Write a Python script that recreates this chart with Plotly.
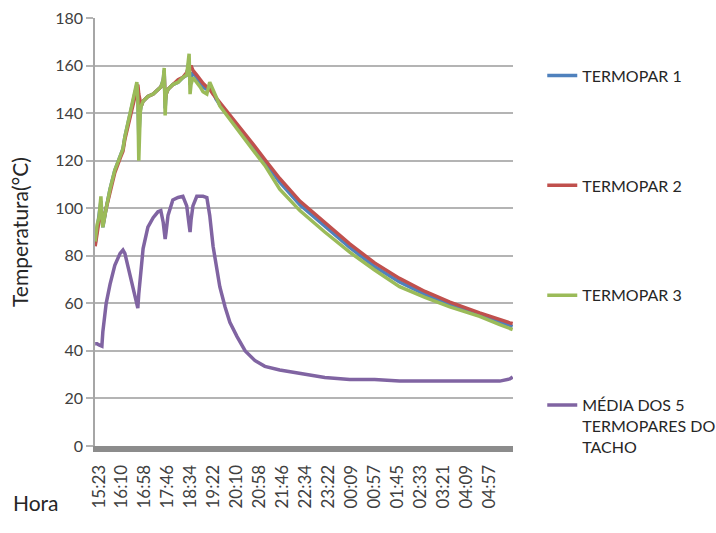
import plotly.graph_objects as go
from datetime import datetime, timedelta

# ---- data ----
hora = ["15:15", "15:19", "15:23", "15:27", "15:29", "15:31", "15:38", "15:46", "15:56", "16:07",
        "16:13", "16:17", "16:28", "16:36", "16:42", "16:44", "16:46", "16:49", "16:51", "16:55",
        "17:05", "17:16", "17:26", "17:32", "17:37", "17:39", "17:41", "17:43", "17:47", "17:57",
        "18:08", "18:18", "18:26", "18:31", "18:33", "18:35", "18:39", "18:47", "18:54", "19:00",
        "19:08", "19:14", "19:21", "19:27", "19:35", "19:46", "19:56", "20:11", "20:28", "20:48",
        "21:09", "21:40", "22:22", "23:14", "00:06", "00:58", "01:50", "02:43", "03:35", "04:37",
        "05:19", "05:40", "05:46"]

termopar1 = [85, 91, 95, 103, 97, 92, 100, 108, 116, 122,
             125, 130, 140, 147, 152, 150, 130, 141, 143, 145,
             147, 148, 150, 151, 154, 158, 142, 148, 150, 152,
             153, 155, 156, 162, 152, 155, 157, 155, 153, 151,
             150, 151, 149, 146, 143.5, 141, 138.5, 134.5, 130, 125,
             119.5, 111, 101.5, 92.5, 83.5, 75.5, 69, 63.8, 59.5, 55.2,
             52, 50.6, 50.3]

termopar2 = [84, 89, 94, 100, 97, 93, 100, 107, 115, 121,
             124, 129, 139, 146, 151, 152, 148, 144, 143, 145,
             147, 148, 150, 151, 153, 157, 145, 148, 150, 152,
             154, 155, 157, 160, 159, 160, 158, 156, 154, 152.5,
             151, 150, 148, 146.5, 144.5, 142, 139.5, 135.5, 131, 126,
             120.5, 112.5, 103, 94, 85, 77, 70.5, 65, 60.5, 56,
             53, 51.8, 51.5]

termopar3 = [86, 93, 96, 105, 97, 92, 100, 108, 116, 122,
             125, 130, 140, 148, 153, 146, 120, 140, 143, 145,
             147, 148, 150, 151, 154, 159, 139, 148, 150, 152,
             153, 155, 156, 165, 148, 152, 155, 153, 151, 149,
             148, 153, 150, 147, 143, 140, 137.5, 133, 128.5, 123.5,
             118, 108, 99, 90, 81.5, 74, 67, 62.5, 58.5, 54.5,
             51, 49.5, 49]

media_tacho = [43, 43, 42.5, 42, 42, 48, 60, 68, 76, 81,
               82.4, 81, 72, 66, 60, 58, 64, 70, 75, 83,
               92, 96, 98.5, 99, 94, 90, 87, 90, 97, 103.5,
               104.5, 105, 101, 93, 90, 95, 101, 105, 105, 105,
               104.5, 97, 84, 76, 67, 58.5, 52, 46, 40, 36,
               33.5, 32, 30.5, 28.8, 28, 28, 27.3, 27.3, 27.3, 27.3,
               27.3, 28.2, 29]

rotulos = ["15:23", "16:10", "16:58", "17:46", "18:34", "19:22", "20:10", "20:58", "21:46",
           "22:34", "23:22", "00:09", "00:57", "01:45", "02:33", "03:21", "04:09", "04:57"]

series = [
    ("TERMOPAR 1", termopar1, "#4F81BD"),
    ("TERMOPAR 2", termopar2, "#C0504D"),
    ("TERMOPAR 3", termopar3, "#9BBB59"),
    ("MÉDIA DOS 5<br>TERMOPARES DO<br>TACHO", media_tacho, "#8064A2"),
]


def to_dt(hhmm):
    h, m = map(int, hhmm.split(":"))
    d = datetime(2000, 1, 1, h, m)
    if h < 12:
        d += timedelta(days=1)
    return d


xs = [to_dt(h) for h in hora]
tick_pos = [to_dt(h) for h in rotulos]

fig = go.Figure()
for i, (name, vals, color) in enumerate(series):
    fig.add_trace(go.Scatter(
        x=xs, y=vals, mode="lines", name=name, legendgroup=f"g{i}",
        line=dict(color=color, width=3.5),
    ))

FONT = "Lato"
fig.update_layout(
    width=716, height=533,
    margin=dict(l=95, r=203, t=18, b=87, autoexpand=False),
    paper_bgcolor="white", plot_bgcolor="white",
    font=dict(family=FONT, color="#404040"),
    showlegend=True,
    legend=dict(
        x=1.07, y=0.905, xanchor="left", yanchor="top",
        font=dict(family=FONT, size=16, color="#262626"),
        tracegroupgap=86, valign="top", bgcolor="rgba(0,0,0,0)",
    ),
    xaxis=dict(
        type="date", automargin=False,
        range=[datetime(2000, 1, 1, 15, 14, 40), datetime(2000, 1, 2, 5, 46, 40)],
        tickmode="array", tickvals=tick_pos, ticktext=rotulos,
        tickangle=-90, tickfont=dict(family=FONT, size=17, color="#404040"),
        showgrid=False, zeroline=False,
        showline=True, linecolor="#8c8c8c", linewidth=6,
        ticks="", ticklabelstandoff=6,
    ),
    yaxis=dict(
        range=[0, 180], dtick=20, tick0=0, automargin=False,
        showgrid=True, gridcolor="#b4b4b4", gridwidth=2,
        zeroline=False,
        showline=True, linecolor="#a6a6a6", linewidth=1.5,
        ticks="outside", ticklen=7, tickcolor="#b4b4b4", tickwidth=2,
        tickfont=dict(family=FONT, size=16, color="#404040"),
        title=dict(text="Temperatura(°C)", font=dict(family=FONT, size=21, color="#262626"), standoff=21),
    ),
    annotations=[dict(
        text="Hora", xref="paper", yref="paper", x=-0.2, y=-0.133,
        xanchor="left", yanchor="middle", showarrow=False,
        font=dict(family=FONT, size=21, color="#262626"),
    )],
)

fig.write_html(
    "out.html",
    config={"displayModeBar": False},
    post_script="document.body.style.margin='0';document.body.style.padding='0';",
)
